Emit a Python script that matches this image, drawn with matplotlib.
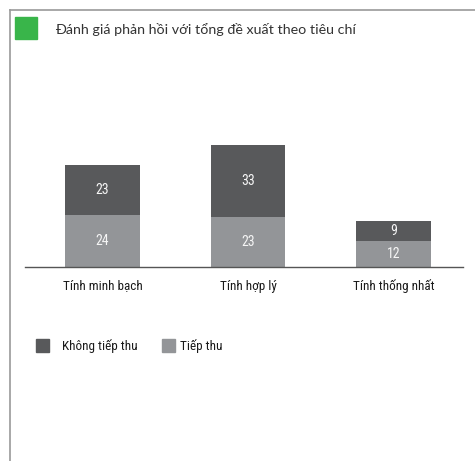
import matplotlib
matplotlib.use("Agg")
import matplotlib.pyplot as plt
from matplotlib.lines import Line2D
from matplotlib.patches import Rectangle

# data
categories = ["Tính minh bạch", "Tính hợp lý", "Tính thống nhất"]
tiep_thu = [24, 23, 12]
khong_tiep_thu = [23, 33, 9]
title = "Đánh giá phản hồi với tổng đề xuất theo tiêu chí"

dark = "#58595b"
light = "#939598"
green = "#39b54a"
frame = "#9a9a9a"

cond = ["Roboto Condensed", "Fira Sans Extra Condensed", "DejaVu Sans"]
regular = ["Lato", "Noto Sans", "DejaVu Sans"]
plt.rcParams["font.family"] = cond

W, H = 475, 461
fig = plt.figure(figsize=(W / 100, H / 100), dpi=100)

def fx(px):
    return px / W

def fy(py):
    return 1 - py / H

# frame lines
fig.add_artist(Line2D([fx(10), fx(475)], [fy(10), fy(10)], color=frame, lw=1.2))
fig.add_artist(Line2D([fx(10), fx(10)], [fy(10), fy(461)], color=frame, lw=1.2))

# title with green square
fig.add_artist(Rectangle((fx(15), fy(39)), fx(22), 22 / H, color=green, transform=fig.transFigure))
fig.text(fx(55), fy(29), title, fontsize=10.3, color="#333333", va="center", ha="left", family=regular)

# axes
base_y = 267
top_y = 140
scale = 2.17
ax = fig.add_axes([fx(25), fy(base_y), fx(438), (base_y - top_y) / H])
x = list(range(len(categories)))
ax.bar(x, tiep_thu, width=0.515, color=light)
ax.bar(x, khong_tiep_thu, width=0.515, bottom=tiep_thu, color=dark)
ax.set_xlim(-0.533, 2.478)
ax.set_ylim(0, (base_y - top_y) / scale)

for i in x:
    ax.text(i, tiep_thu[i] / 2, str(tiep_thu[i]), ha="center", va="center", color="#f5f5f5", fontsize=10)
    ax.text(i, tiep_thu[i] + khong_tiep_thu[i] / 2, str(khong_tiep_thu[i]), ha="center", va="center",
            color="#f5f5f5", fontsize=10)

for s in ["top", "right", "left"]:
    ax.spines[s].set_visible(False)
ax.spines["bottom"].set_color("#555555")
ax.spines["bottom"].set_linewidth(1.0)
ax.set_yticks([])
ax.set_xticks(x)
ax.set_xticklabels(categories, fontsize=9.5, color="#1a1a1a")
ax.tick_params(axis="x", length=0, pad=9)

# legend
fig.add_artist(Rectangle((fx(36), fy(352)), fx(13), 13 / H, color=dark, transform=fig.transFigure))
fig.text(fx(62), fy(346), "Không tiếp thu", fontsize=9.5, color="#1a1a1a", va="center")
fig.add_artist(Rectangle((fx(162), fy(352)), fx(13), 13 / H, color=light, transform=fig.transFigure))
fig.text(fx(180), fy(346), "Tiếp thu", fontsize=9.5, color="#1a1a1a", va="center")

fig.savefig("out.png", dpi=100)
